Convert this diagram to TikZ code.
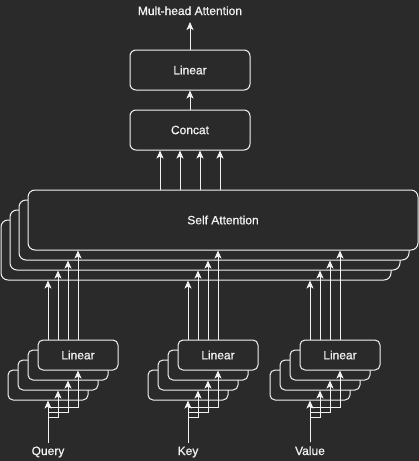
\documentclass[tikz,border=0pt]{standalone}
\usepackage{fontspec}
\setmainfont{Liberation Sans}[RawFeature={embolden=0.7}]
\usetikzlibrary{arrows.meta}
\definecolor{bg}{HTML}{2A2A2A}
\definecolor{fg}{HTML}{F2F2F2}
\begin{document}
\begin{tikzpicture}[x=1pt,y=-1pt,
  txt/.style={text=fg,font=\fontsize{12}{14}\selectfont},
  box/.style={txt,draw=fg,fill=bg,line width=1pt,rounded corners=6pt,inner sep=0pt},
  sbox/.style={box,rounded corners=5pt,minimum width=80pt,minimum height=30pt},
  sabox/.style={box,rounded corners=7pt,minimum width=390pt,minimum height=60pt},
  lbl/.style={txt,inner sep=1pt,outer sep=3pt},
  arr/.style={draw=fg,line width=1pt,-{Stealth[length=8pt,width=7pt,inset=2pt]}}]
\fill[bg] (0,0) rectangle (419,461);
\useasboundingbox (0,0) rectangle (419,461);

% Self attention stack
\node[sabox] (sa4) at (196,250) {};
\node[sabox] (sa3) at (205,240) {};
\node[sabox] (sa2) at (214,230) {};
\node[sabox] (sa1) at (223,220) {Self Attention};

% Linear stacks
\foreach \g/\dx in {q/0,k/140,v/262}{
  \node[sbox] (l\g4) at (48+\dx,385) {};
  \node[sbox] (l\g3) at (58+\dx,375) {};
  \node[sbox] (l\g2) at (68+\dx,365) {};
  \node[sbox] (l\g1) at (78+\dx,355) {Linear};
}

% Top boxes
\node[box,minimum width=120pt,minimum height=40pt] (concat) at (190,130) {Concat};
\node[box,minimum width=120pt,minimum height=40pt] (lin) at (190,70) {Linear};
\node[lbl,anchor=base] (title) at (190,15) {Mult-head Attention};
\coordinate (out) at (190,22);

% Inputs
\node[lbl,anchor=base] (query) at (48,455) {Query};
\node[lbl,anchor=base] (key) at (188,455) {Key};
\node[lbl,anchor=base] (value) at (310,455) {Value};

% Arrows top
\draw[arr] (lin.north) -- (out);
\draw[arr] (concat.north) -- (lin.south);
\foreach \s in {-30,-10,10,30}{
  \draw[arr] ([xshift=\s pt]concat.south |- sa1.north) -- ([xshift=\s pt]concat.south);
}

% Linear -> Self attention
\foreach \g in {q,k,v}{
  \draw[arr] (l\g4.south |- l\g1.north) -- (l\g4.south |- sa4.south);
  \draw[arr] (l\g3.south |- l\g1.north) -- (l\g3.south |- sa3.south);
  \draw[arr] (l\g2.south |- l\g1.north) -- (l\g2.south |- sa2.south);
  \draw[arr] (l\g1.south |- l\g1.north) -- (l\g1.south |- sa1.south);
}

% Inputs -> Linear
\foreach \g/\n in {q/query,k/key,v/value}{
  \draw[arr] (\n.north) -- (\n.north |- l\g4.south);
  \draw[arr] (\n.north) -- ++(0,-25) -| (l\g3.south);
  \draw[arr] (\n.north) -- ++(0,-30) -| (l\g2.south);
  \draw[arr] (\n.north) -- ++(0,-35) -| (l\g1.south);
}
\end{tikzpicture}
\end{document}
